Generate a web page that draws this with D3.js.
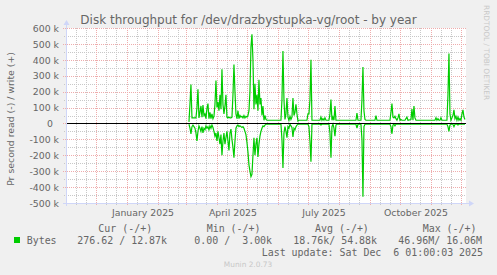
<!DOCTYPE html>
<html>
<head>
<meta charset="utf-8">
<script src="https://cdn.jsdelivr.net/npm/d3@7"></script>
<style>
  html, body { margin: 0; padding: 0; background: #f0f0f0; }
  svg { display: block; }
  text { font-family: "DejaVu Sans", sans-serif; fill: #666; }
  .mono { font-family: "DejaVu Sans Mono", monospace; white-space: pre; }
</style>
</head>
<body>
<div id="chart"></div>
<script>
// time window of the yearly graph (400 days ending at last update)
const startDate = new Date(2024, 10, 1, 1, 0, 0);
const endDate = new Date(2025, 11, 6, 1, 0, 0);

const yTicks = [-500, -400, -300, -200, -100, 0, 100, 200, 300, 400, 500, 600];
const xLabelMonths = ['2025-01', '2025-04', '2025-07', '2025-10'];

// [day since startDate, kB/s]
const writeK = [
  [123,10],[124,120],[125,245],[126,35],[130,35],[131,100],[132,215],[133,35],[134,70],[135,110],
  [136,40],[137,115],[138,50],[139,60],[140,30],[141,95],[142,125],[143,30],[144,70],[145,30],
  [146,60],[147,30],[148,45],[149,120],[150,270],[151,100],[152,135],[153,80],[154,180],[155,90],
  [156,340],[157,120],[158,60],[159,110],[160,180],[161,40],[162,35],[163,40],[164,35],[165,35],
  [166,40],[167,180],[168,370],[169,200],[170,60],[171,30],[172,80],[173,30],[174,50],[175,40],
  [176,45],[177,35],[178,50],[179,35],[180,45],[181,40],[182,50],[183,80],[184,200],[185,480],
  [186,560],[187,400],[188,90],[189,250],[190,120],[191,180],[192,80],[193,275],[194,120],[195,160],
  [196,50],[197,110],[198,20],[199,50],[200,25],[201,20],[215,20],[216,150],[217,455],[218,150],
  [219,25],[220,60],[221,160],[222,40],[223,20],[224,45],[225,25],[226,40],[227,160],[228,50],
  [229,70],[230,120],[231,60],[232,15],[233,20],[241,20],[242,60],[243,60],[244,150],[245,400],
  [246,20],[254,20],[255,40],[256,20],[257,30],[258,20],[259,35],[260,20],[263,20],[264,60],
  [265,150],[266,20],[267,40],[268,20],[269,110],[270,20],[290,20],[291,65],[292,20],[295,20],
  [296,150],[297,355],[298,80],[299,25],[300,20],[309,20],[310,50],[311,20],[324,20],[325,70],
  [326,125],[327,40],[328,35],[329,45],[330,30],[331,20],[332,35],[333,60],[334,20],[335,25],
  [336,20],[339,20],[340,30],[341,40],[342,20],[345,25],[346,90],[347,20],[348,110],[349,35],
  [350,20],[369,20],[370,35],[371,20],[372,30],[373,20],[374,20],[375,35],[376,20],[381,20],
  [382,180],[383,440],[384,60],[385,20],[386,35],[387,50],[388,85],[389,30],[390,45],[391,20],
  [392,40],[393,20],[394,30],[395,20],[396,60],[397,85],[398,40],[399,25]
];

const readK = [
  [123,-5],[124,-30],[125,-65],[126,-20],[127,-10],[128,-20],[129,-30],[130,-60],[131,-110],[132,-50],
  [133,-15],[134,-30],[135,-50],[136,-20],[137,-60],[138,-30],[139,-40],[140,-15],[141,-30],[142,-20],
  [143,-40],[144,-15],[145,-30],[146,-10],[147,-25],[148,-50],[149,-80],[150,-60],[151,-110],[152,-50],
  [153,-90],[154,-130],[155,-70],[156,-200],[157,-110],[158,-60],[159,-130],[160,-90],[161,-50],[162,-110],
  [163,-170],[164,-60],[165,-35],[166,-100],[167,-150],[168,-215],[169,-110],[170,-30],[171,-15],[172,-10],
  [173,-20],[174,-15],[175,-20],[176,-25],[177,-20],[178,-30],[179,-50],[180,-70],[181,-120],[182,-180],
  [183,-260],[184,-300],[185,-335],[186,-320],[187,-200],[188,-90],[189,-200],[190,-130],[191,-90],[192,-210],
  [193,-130],[194,-80],[195,-50],[196,-30],[197,-15],[198,-20],[199,-10],[200,-5],[215,-5],[216,-100],
  [217,-280],[218,-60],[219,-20],[220,-50],[221,-90],[222,-20],[223,-30],[224,-5],[225,-15],[226,-25],
  [227,-85],[228,-30],[229,-40],[230,-20],[231,-10],[232,-5],[242,-5],[243,-20],[244,-110],[245,-240],
  [246,-5],[254,-5],[255,-10],[256,-5],[263,-5],[264,-60],[265,-215],[266,-20],[267,-5],[268,-30],
  [269,-80],[270,-10],[271,-5],[290,-5],[291,-30],[292,-5],[295,-5],[296,-100],[297,-460],[298,-20],
  [299,-5],[324,-5],[325,-20],[326,-65],[327,-10],[328,-5],[329,-15],[330,-5],[381,-5],[382,-20],
  [383,-50],[384,-10],[385,-5],[387,-5],[388,-20],[389,-5],[391,-5],[392,-10],[393,-5],[399,-5]
];

const legendHeaders = ['Cur (-/+)', 'Min (-/+)', 'Avg (-/+)', 'Max (-/+)'];
const legendValues = ['276.62 / 12.87k', '0.00 /  3.00k', '18.76k/ 54.88k', '46.96M/ 16.06M'];
const seriesName = 'Bytes';
const lastUpdate = 'Last update: Sat Dec  6 01:00:03 2025';

const width = 497, height = 275;
const plot = { left: 66, right: 466, top: 28, bottom: 203 };
const green = '#00cc00';
const axisColor = '#cfd6f8';
const majorColor = '#eeacac';
const minorColor = '#c8c8c8';

const svg = d3.select('#chart').append('svg')
    .attr('width', width)
    .attr('height', height);

svg.append('rect')
    .attr('width', width).attr('height', height)
    .attr('fill', '#f0f0f0');

svg.append('rect')
    .attr('x', plot.left).attr('y', plot.top)
    .attr('width', plot.right - plot.left)
    .attr('height', plot.bottom - plot.top)
    .attr('fill', '#fff');

const x = d3.scaleTime()
    .domain([startDate, endDate])
    .range([plot.left, plot.right]);

const y = d3.scaleLinear()
    .domain([-500, 600])
    .range([plot.bottom, plot.top]);

const dayToDate = d => d3.timeDay.offset(d3.timeDay.floor(startDate), d);

// grid
const grid = svg.append('g').attr('shape-rendering', 'crispEdges');
const months = d3.timeMonth.range(d3.timeMonth.ceil(startDate), endDate);
const minorDays = [];
d3.timeMonth.range(d3.timeMonth.floor(startDate), endDate).forEach(m => {
    [10, 20].forEach(k => {
        const t = d3.timeDay.offset(m, k);
        if (t > startDate && t < endDate) minorDays.push(t);
    });
});
const yMinor = yTicks.slice(0, -1).map(v => v + 50);

minorDays.forEach(t => {
    grid.append('line')
        .attr('x1', Math.round(x(t)) + 0.5).attr('x2', Math.round(x(t)) + 0.5)
        .attr('y1', plot.top).attr('y2', plot.bottom + 2)
        .attr('stroke', minorColor).attr('stroke-dasharray', '1,1');
});
yMinor.forEach(v => {
    grid.append('line')
        .attr('x1', plot.left - 2).attr('x2', plot.right)
        .attr('y1', Math.round(y(v)) + 0.5).attr('y2', Math.round(y(v)) + 0.5)
        .attr('stroke', minorColor).attr('stroke-dasharray', '1,1');
});
months.forEach(t => {
    grid.append('line')
        .attr('x1', Math.round(x(t)) + 0.5).attr('x2', Math.round(x(t)) + 0.5)
        .attr('y1', plot.top).attr('y2', plot.bottom + 3)
        .attr('stroke', majorColor).attr('stroke-dasharray', '1,1');
});
yTicks.forEach(v => {
    grid.append('line')
        .attr('x1', plot.left - 3).attr('x2', plot.right)
        .attr('y1', Math.round(y(v)) + 0.5).attr('y2', Math.round(y(v)) + 0.5)
        .attr('stroke', majorColor).attr('stroke-dasharray', '1,1');
});

// y axis labels
svg.append('g')
    .attr('transform', `translate(${plot.left},0)`)
    .call(d3.axisLeft(y)
        .tickValues(yTicks)
        .tickSize(0)
        .tickPadding(7)
        .tickFormat(d => d === 0 ? '0' : `${d} k`))
    .call(g => g.select('.domain').remove())
    .call(g => g.selectAll('text')
        .attr('fill', '#666')
        .style('font-size', '9.33px')
        .style('font-family', '"DejaVu Sans", sans-serif')
        .attr('dy', '0.34em')
        .attr('x', d => d === 0 ? -13 : -7));

// x axis labels (centered on mid-month)
const labelDates = xLabelMonths.map(s => d3.timeHour.offset(d3.timeParse('%Y-%m')(s), 15 * 24 + 12));
svg.append('g')
    .attr('transform', `translate(0,${plot.bottom})`)
    .call(d3.axisBottom(x)
        .tickValues(labelDates)
        .tickSize(0)
        .tickFormat(d3.timeFormat('%B %Y')))
    .call(g => g.select('.domain').remove())
    .call(g => g.selectAll('text')
        .attr('fill', '#666')
        .attr('dy', null)
        .attr('y', 13)
        .style('font-size', '9.33px')
        .style('font-family', '"DejaVu Sans", sans-serif'));

// data lines
const line = d3.line()
    .x(d => x(dayToDate(d[0])))
    .y(d => y(d[1]));

svg.append('path')
    .datum(readK)
    .attr('fill', 'none')
    .attr('stroke', green)
    .attr('stroke-width', 1.2)
    .attr('stroke-linejoin', 'miter')
    .attr('d', line);

svg.append('line')
    .attr('x1', plot.left).attr('x2', plot.right)
    .attr('y1', Math.round(y(0)) + 0.5).attr('y2', Math.round(y(0)) + 0.5)
    .attr('stroke', '#000')
    .attr('shape-rendering', 'crispEdges');

svg.append('path')
    .datum(writeK)
    .attr('fill', 'none')
    .attr('stroke', green)
    .attr('stroke-width', 1.2)
    .attr('stroke-linejoin', 'miter')
    .attr('d', line);

// axes with arrows
svg.append('line')
    .attr('x1', plot.left + 0.5).attr('x2', plot.left + 0.5)
    .attr('y1', plot.bottom + 3).attr('y2', plot.top - 5)
    .attr('stroke', axisColor)
    .attr('shape-rendering', 'crispEdges');
svg.append('line')
    .attr('x1', plot.left - 3).attr('x2', plot.right + 5)
    .attr('y1', plot.bottom + 0.5).attr('y2', plot.bottom + 0.5)
    .attr('stroke', axisColor)
    .attr('shape-rendering', 'crispEdges');
svg.append('path')
    .attr('d', `M${plot.left - 2.5},${plot.top - 3} L${plot.left + 0.5},${plot.top - 8} L${plot.left + 3.5},${plot.top - 3} Z`)
    .attr('fill', axisColor);
svg.append('path')
    .attr('d', `M${plot.right + 3},${plot.bottom - 2.5} L${plot.right + 8},${plot.bottom + 0.5} L${plot.right + 3},${plot.bottom + 3.5} Z`)
    .attr('fill', axisColor);

// title
svg.append('text')
    .attr('x', 248.5)
    .attr('y', 24)
    .attr('text-anchor', 'middle')
    .style('font-size', '12px')
    .text('Disk throughput for /dev/drazbystupka-vg/root - by year');

// vertical label
svg.append('text')
    .attr('transform', 'translate(13.5,119) rotate(-90)')
    .attr('text-anchor', 'middle')
    .style('font-size', '9.33px')
    .text('Pr second read (-) / write (+)');

svg.append('text')
    .attr('transform', 'translate(484,5) rotate(90)')
    .style('fill', '#c8c8c8')
    .style('font-size', '7.4px')
    .text('RRDTOOL / TOBI OETIKER');

// legend
const headerX = [98.3, 206.7, 315, 422.7];
const valueX = [77.3, 194.3, 293.3, 398.3];

legendHeaders.forEach((h, i) => {
    svg.append('text')
        .attr('class', 'mono')
        .attr('x', headerX[i]).attr('y', 231.5)
        .style('font-size', '9.95px')
        .text(h);
});

svg.append('rect')
    .attr('x', 14).attr('y', 237)
    .attr('width', 6).attr('height', 6)
    .attr('fill', green);

svg.append('text')
    .attr('class', 'mono')
    .attr('x', 26.7).attr('y', 243.5)
    .style('font-size', '9.95px')
    .text(seriesName);

legendValues.forEach((v, i) => {
    svg.append('text')
        .attr('class', 'mono')
        .attr('x', valueX[i]).attr('y', 243.5)
        .style('font-size', '9.95px')
        .text(v);
});

svg.append('text')
    .attr('class', 'mono')
    .attr('x', 261.7).attr('y', 255.5)
    .style('font-size', '9.95px')
    .text(lastUpdate);

svg.append('text')
    .attr('x', 248).attr('y', 267)
    .attr('text-anchor', 'middle')
    .style('fill', '#c8c8c8')
    .style('font-size', '7.4px')
    .text('Munin 2.0.73');
</script>
</body>
</html>
